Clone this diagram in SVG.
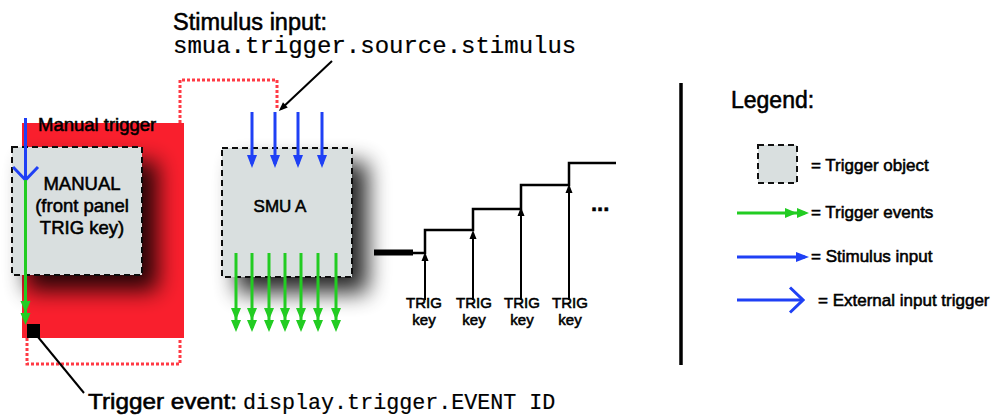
<svg xmlns="http://www.w3.org/2000/svg" width="1005" height="419" viewBox="0 0 1005 419">
<style>
text{font-family:"Liberation Sans",Arial,sans-serif;fill:#000;stroke:#000;stroke-width:0.55}
text.mono{font-family:"Liberation Mono","Courier New",monospace;stroke-width:0.2}
.box{fill:#d9dfdf;stroke:#111;stroke-width:2;stroke-dasharray:6,4}
.dot{fill:none;stroke:#ff3a44;stroke-width:3;stroke-dasharray:3,2}
.grn{stroke:#22cc22;stroke-width:3;fill:none}
.blu{stroke:#1f40f5;stroke-width:3;fill:none}
.blk{stroke:#000;stroke-width:2;fill:none}
</style>
<defs>
<filter id="sh" x="-40%" y="-40%" width="190%" height="190%">
<feGaussianBlur in="SourceAlpha" stdDeviation="11"/>
<feOffset dx="15" dy="15" result="b"/>
<feComponentTransfer><feFuncA type="linear" slope="0.85"/></feComponentTransfer>
<feMerge><feMergeNode/><feMergeNode in="SourceGraphic"/></feMerge>
</filter>
<marker id="g2" viewBox="-24 -6 28 12" refX="-4" refY="0" markerWidth="28" markerHeight="12" markerUnits="userSpaceOnUse" orient="auto">
<path d="M-12,-5 L0,0 L-12,5 Z M-24,-5 L-12,0 L-24,5 Z" fill="#22cc22"/>
</marker>
<marker id="bf" viewBox="-14 -6 18 12" refX="-4" refY="0" markerWidth="18" markerHeight="12" markerUnits="userSpaceOnUse" orient="auto">
<path d="M-13,-5 L0,0 L-13,5 Z" fill="#1f40f5"/>
</marker>
<marker id="bo" viewBox="-16 -14 18 28" refX="0" refY="0" markerWidth="18" markerHeight="28" markerUnits="userSpaceOnUse" orient="auto">
<path d="M-13,-12.5 L0,0 L-13,12.5" fill="none" stroke="#1f40f5" stroke-width="3"/>
</marker>
<marker id="ka" viewBox="-10 -5 13 10" refX="-3" refY="0" markerWidth="13" markerHeight="10" markerUnits="userSpaceOnUse" orient="auto">
<path d="M-9,-3.5 L0,0 L-9,3.5 Z" fill="#000"/>
</marker>
</defs>

<rect x="22" y="123" width="162" height="215" fill="#f91f2d"/>

<g id="connectors">
<path class="dot" d="M180,123 V80 H277 V108"/>
<path class="dot" d="M27,338 V364 H180 V338"/>
</g>

<g id="manual">
<rect class="box" x="12" y="147" width="130" height="128" filter="url(#sh)"/>
<text x="82" y="190" font-size="18.5" text-anchor="middle">MANUAL</text>
<text x="82" y="212" font-size="18.5" text-anchor="middle">(front panel</text>
<text x="82" y="234" font-size="18.5" text-anchor="middle">TRIG key)</text>
</g>
<text x="38" y="131" font-size="18.5">Manual trigger</text>

<g id="smua">
<rect class="box" x="222" y="148" width="130" height="129" filter="url(#sh)"/>
<text x="280" y="212" font-size="17" text-anchor="middle">SMU A</text>
</g>

<g id="connectors2">
<line class="blu" x1="25.5" y1="118" x2="25.5" y2="180" marker-end="url(#bo)"/>
<line class="grn" x1="25.5" y1="180" x2="25.5" y2="321" marker-end="url(#g2)"/>
<rect x="27" y="324" width="13" height="14" fill="#000"/>
<line class="blk" x1="38" y1="337" x2="84" y2="393"/>
<line class="blk" x1="332" y1="61" x2="281" y2="109" marker-end="url(#ka)"/>
<line class="blu" x1="252" y1="112" x2="252" y2="164" marker-end="url(#bf)"/>
<line class="blu" x1="275" y1="112" x2="275" y2="164" marker-end="url(#bf)"/>
<line class="blu" x1="298" y1="112" x2="298" y2="164" marker-end="url(#bf)"/>
<line class="blu" x1="322" y1="112" x2="322" y2="164" marker-end="url(#bf)"/>
<line class="grn" x1="236" y1="253" x2="236" y2="328" marker-end="url(#g2)"/>
<line class="grn" x1="252" y1="253" x2="252" y2="328" marker-end="url(#g2)"/>
<line class="grn" x1="269" y1="253" x2="269" y2="328" marker-end="url(#g2)"/>
<line class="grn" x1="285" y1="253" x2="285" y2="328" marker-end="url(#g2)"/>
<line class="grn" x1="301" y1="253" x2="301" y2="328" marker-end="url(#g2)"/>
<line class="grn" x1="318" y1="253" x2="318" y2="328" marker-end="url(#g2)"/>
<line class="grn" x1="336" y1="253" x2="336" y2="328" marker-end="url(#g2)"/>
</g>

<text x="173" y="30" font-size="23.5">Stimulus input:</text>
<text class="mono" x="173" y="53" font-size="24">smua.trigger.source.stimulus</text>
<text x="88" y="409" font-size="22" textLength="149" lengthAdjust="spacingAndGlyphs">Trigger event:</text>
<text class="mono" x="243" y="409" font-size="21.7">display.trigger.EVENT ID</text>

<g id="staircase">
<line x1="374" y1="252.5" x2="413" y2="252.5" stroke="#000" stroke-width="6"/>
<path d="M413,253 H425 V230 H473 V209 H521 V185 H569 V163 H616" fill="none" stroke="#000" stroke-width="2.5"/>
<line class="blk" x1="425" y1="300" x2="425" y2="255" marker-end="url(#ka)"/>
<line class="blk" x1="473" y1="300" x2="473" y2="233" marker-end="url(#ka)"/>
<line class="blk" x1="521" y1="300" x2="521" y2="210" marker-end="url(#ka)"/>
<line class="blk" x1="569" y1="300" x2="569" y2="187" marker-end="url(#ka)"/>
<text x="424" y="308" font-size="15" text-anchor="middle">TRIG</text>
<text x="424" y="325" font-size="15" text-anchor="middle">key</text>
<text x="474" y="308" font-size="15" text-anchor="middle">TRIG</text>
<text x="474" y="325" font-size="15" text-anchor="middle">key</text>
<text x="522" y="308" font-size="15" text-anchor="middle">TRIG</text>
<text x="522" y="325" font-size="15" text-anchor="middle">key</text>
<text x="570" y="308" font-size="15" text-anchor="middle">TRIG</text>
<text x="570" y="325" font-size="15" text-anchor="middle">key</text>
<text x="591" y="211" font-size="22" font-weight="bold">...</text>
</g>

<line x1="681" y1="83" x2="681" y2="365" stroke="#000" stroke-width="3.5"/>

<g id="legend">
<text x="731" y="108" font-size="23">Legend:</text>
<rect class="box" x="758" y="145" width="39" height="38"/>
<text x="811" y="171" font-size="17">= Trigger object</text>
<line class="grn" x1="737" y1="213" x2="805" y2="213" marker-end="url(#g2)"/>
<text x="811" y="218" font-size="17">= Trigger events</text>
<line class="blu" x1="737" y1="257" x2="805" y2="257" marker-end="url(#bf)"/>
<text x="811" y="262" font-size="17">= Stimulus input</text>
<line class="blu" x1="737" y1="300" x2="803" y2="300" marker-end="url(#bo)"/>
<text x="818" y="306" font-size="17">= External input trigger</text>
</g>
</svg>
